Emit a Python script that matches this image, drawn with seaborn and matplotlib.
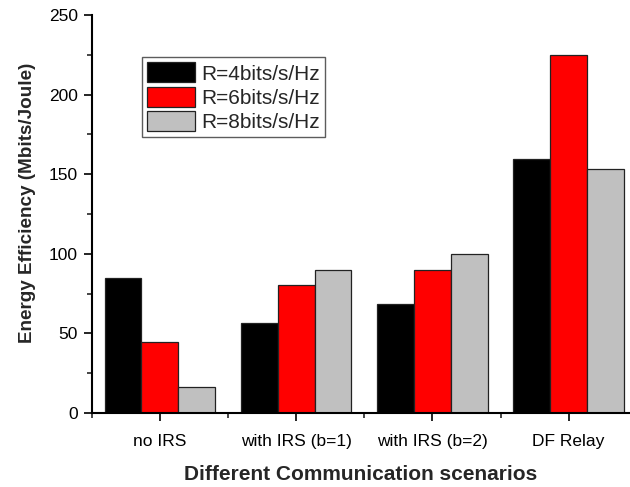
import matplotlib
matplotlib.use("Agg")
import matplotlib.pyplot as plt
from matplotlib.ticker import FixedLocator, MultipleLocator
import pandas as pd
import seaborn as sns

# values
scenarios = ['no IRS', 'with IRS (b=1)', 'with IRS (b=2)', 'DF Relay']
rates = ['R=4bits/s/Hz', 'R=6bits/s/Hz', 'R=8bits/s/Hz']
ee_r4 = [84.6, 56.5, 68.7, 159.3]
ee_r6 = [44.3, 80.2, 89.7, 224.8]
ee_r8 = [16.3, 89.7, 99.7, 153.3]
colors = ['#000000', '#FF0000', '#C0C0C0']

def build_frame():
    rows = []
    for rate, vals in zip(rates, [ee_r4, ee_r6, ee_r8]):
        for sc, v in zip(scenarios, vals):
            rows.append({'scenario': sc, 'rate': rate, 'ee': v})
    return pd.DataFrame(rows)

def main():
    df = build_frame()
    sns.set_style('ticks')
    plt.rcParams['font.family'] = ['Liberation Sans', 'DejaVu Sans']

    fig = plt.figure(figsize=(6.3, 4.87), dpi=100)
    ax = fig.add_axes([0.1456, 0.152, 0.8544, 0.817])

    sns.barplot(data=df, x='scenario', y='ee', hue='rate', order=scenarios,
                hue_order=rates, palette=colors, saturation=1, width=0.81,
                edgecolor='#222222', linewidth=0.9, ax=ax)

    ax.set_ylim(0, 250)
    ax.set_xlim(-0.5, 3.45)
    ax.yaxis.set_major_locator(MultipleLocator(50))
    ax.yaxis.set_minor_locator(MultipleLocator(25))
    ax.xaxis.set_minor_locator(FixedLocator([-0.5, 0.5, 1.5, 2.5]))

    for side in ['top', 'right']:
        ax.spines[side].set_visible(False)
    for side in ['left', 'bottom']:
        ax.spines[side].set_linewidth(1.5)
        ax.spines[side].set_color('black')

    ax.tick_params(axis='both', which='major', length=6, width=1.2,
                   labelsize=12.5, colors='black', direction='out')
    ax.tick_params(axis='both', which='minor', length=3.6, width=1.2,
                   direction='out')
    ax.tick_params(axis='y', which='major', pad=4)
    ax.tick_params(axis='x', which='major', pad=9)

    ax.set_xlabel('Different Communication scenarios', fontsize=15,
                  fontweight='bold', labelpad=12)
    ax.set_ylabel('Energy Efficiency (Mbits/Joule)', fontsize=13.6,
                  fontweight='bold', labelpad=9)
    ax.yaxis.label.set_y(0.528)

    leg = ax.legend(loc='upper left', bbox_to_anchor=(0.093, 0.894),
                    borderaxespad=0, fontsize=15, frameon=True, fancybox=False,
                    handlelength=2.3, handleheight=1.1, handletextpad=0.3,
                    labelspacing=0.15, borderpad=0.25)
    leg.get_frame().set_edgecolor('#333333')
    leg.get_frame().set_linewidth(1.0)

    fig.savefig('out.png', dpi=100)
    plt.close(fig)

if __name__ == "__main__":
    main()
